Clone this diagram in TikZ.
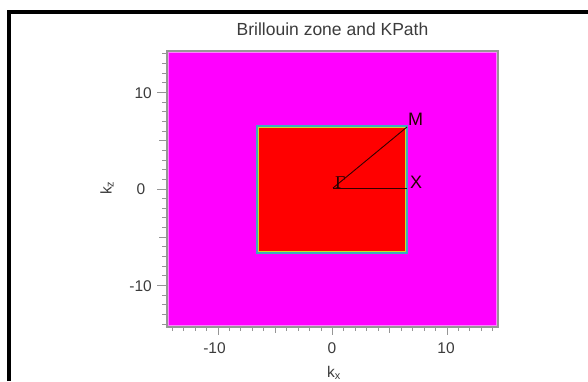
\documentclass[tikz,border=0pt]{standalone}
\usepackage{fontspec}
\setmainfont{Liberation Sans}
\newfontfamily\gammafont{Liberation Serif}
\definecolor{bzmag}{RGB}{255,0,255}
\definecolor{bzred}{RGB}{255,0,0}
\definecolor{bzcyan}{RGB}{60,170,190}
\definecolor{bzyel}{RGB}{200,220,40}
\definecolor{txtgray}{RGB}{60,60,60}
\definecolor{framegray}{RGB}{150,150,150}
\begin{document}
\begin{tikzpicture}[x=1pt,y=-1pt,
  ticklabel/.style={text=txtgray, font=\fontsize{15.5}{17}\selectfont, inner sep=0pt},
  titlelabel/.style={text=txtgray, font=\fontsize{17.5}{19}\selectfont, inner sep=0pt},
  pointlabel/.style={text=black!85!red, font=\fontsize{18}{20}\selectfont, inner sep=0pt, anchor=base west},
  tickline/.style={draw=framegray, line width=1},
  pathline/.style={draw=black!80!red, line width=0.9}]
\useasboundingbox (0,0) rectangle (588,381);
\fill[white] (0,0) rectangle (588,381);
% outer black border
\draw[line width=4] (9,381) -- (9,12) -- (588,12);
% plot area
\fill[bzmag] (167,51) rectangle (498,327);
\draw[bzmag!50!white, line width=1] (168.5,52.5) rectangle (496.5,325.5);
\draw[framegray, line width=1.5] (167,51) rectangle (498,327);
% ticks y
\foreach \v in {-14,...,14}{
  \pgfmathsetmacro\yy{189-9.65*\v}
  \pgfmathsetmacro\L{ifthenelse(mod(\v,10)==0,10,ifthenelse(mod(\v,5)==0,8,5.5))}
  \draw[tickline] (167,\yy) -- ++(-\L,0);
}
% ticks x
\foreach \v in {-14,...,14}{
  \pgfmathsetmacro\xx{332.5+11.45*\v}
  \pgfmathsetmacro\L{ifthenelse(mod(\v,10)==0,8,ifthenelse(mod(\v,5)==0,6,4))}
  \draw[tickline] (\xx,327) -- ++(0,\L);
}
% Brillouin zone square
\fill[bzred] (257,126) rectangle (407,253);
\draw[bzyel, line width=1] (258.5,127.5) rectangle (405.5,251.5);
\draw[bzcyan, line width=1.5] (257,126) rectangle (407,253);
% k-path
\coordinate (G) at (333,188);
\coordinate (X) at (407,188);
\coordinate (M) at (407,127);
\draw[pathline] (G) -- (X);
\draw[pathline] (G) -- (M);
\node[pointlabel] (lG) at (335,188) {\gammafont Γ};
\node[pointlabel] (lM) at (408,125) {M};
\node[pointlabel] (lX) at (410,188) {X};
% title
\node[titlelabel, anchor=base] (title) at (332.5,35) {Brillouin zone and KPath};
% y tick labels
\node[ticklabel, anchor=east] (y10) at (152,93) {10};
\node[ticklabel, anchor=center] (y0) at (141,189) {0};
\node[ticklabel, anchor=east] (ym10) at (152,286) {-10};
% x tick labels
\node[ticklabel, anchor=center] (xm10) at (214.5,348) {-10};
\node[ticklabel, anchor=center] (x0) at (332,348) {0};
\node[ticklabel, anchor=center] (x10) at (446,348) {10};
% axis labels
\node[ticklabel, anchor=base] (kx) at (334,377) {k\textsubscript{x}};
\node[ticklabel, anchor=center, rotate=90] (kz) at (107,188) {k\textsubscript{z}};
\end{tikzpicture}
\end{document}
